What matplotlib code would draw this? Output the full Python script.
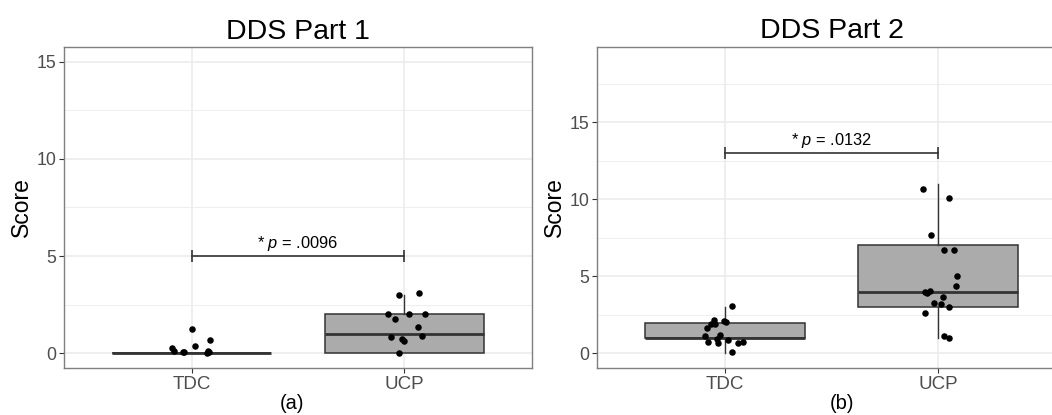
import matplotlib
matplotlib.use("Agg")
import matplotlib.pyplot as plt
import numpy as np

plt.rcParams['font.family'] = ['Liberation Sans', 'DejaVu Sans']
plt.rcParams['mathtext.fontset'] = 'custom'
plt.rcParams['mathtext.rm'] = 'Liberation Sans'
plt.rcParams['mathtext.it'] = 'Liberation Sans:italic'

# ---------------- data ----------------
categories = ["TDC", "UCP"]
titles = ["DDS Part 1", "DDS Part 2"]
panel_labels = ["(a)", "(b)"]
p_texts = [r"* $\it{p}$ = .0096", r"* $\it{p}$ = .0132"]
bracket_y = [5, 13]
yticks = [0, 5, 10, 15]

# box statistics (q1, median, q3, whisker low, whisker high)
p1_tdc_box = dict(q1=0, med=0, q3=0, whislo=0, whishi=0)
p1_ucp_box = dict(q1=0, med=1, q3=2, whislo=0, whishi=3)
p2_tdc_box = dict(q1=1, med=1, q3=2, whislo=0, whishi=3)
p2_ucp_box = dict(q1=3, med=4, q3=7, whislo=1, whishi=11)

# jittered points (x position on category axis, plotted score)
p1_tdc_x = [1.003, 1.085, 1.016, 0.906, 0.918, 0.964, 0.958, 1.077, 1.072, 1.080]
p1_tdc_y = [1.28, 0.68, 0.36, 0.27, 0.10, 0.08, 0.06, 0.10, 0.00, 0.05]
p1_ucp_x = [1.977, 2.068, 1.921, 2.020, 2.098, 1.957, 2.066, 2.084, 1.937, 1.989, 1.998, 1.975]
p1_ucp_y = [2.98, 3.08, 2.01, 2.01, 2.05, 1.77, 1.38, 0.92, 0.84, 0.73, 0.63, 0.02]
p2_tdc_x = [1.035, 0.948, 0.995, 1.006, 0.933, 0.953, 0.914, 0.905, 0.977, 0.961,
            1.013, 0.920, 0.969, 1.061, 1.084, 1.035]
p2_tdc_y = [3.07, 2.14, 2.10, 2.05, 1.92, 1.88, 1.62, 1.12, 1.16, 0.91,
            0.84, 0.75, 0.67, 0.69, 0.75, 0.06]
p2_ucp_x = [1.932, 2.052, 1.968, 2.027, 2.077, 2.091, 2.083, 1.961, 1.938, 1.950,
            2.024, 1.980, 2.013, 2.052, 1.940, 2.029, 2.050]
p2_ucp_y = [10.65, 10.08, 7.66, 6.71, 6.71, 5.02, 4.37, 4.02, 3.96, 3.94,
            3.68, 3.29, 3.20, 2.98, 2.62, 1.10, 0.97]

panels = [
    dict(boxes=[p1_tdc_box, p1_ucp_box], xs=[p1_tdc_x, p1_ucp_x], ys=[p1_tdc_y, p1_ucp_y],
         ylim=(-0.75, 15.75), minor=[2.5, 7.5, 12.5]),
    dict(boxes=[p2_tdc_box, p2_ucp_box], xs=[p2_tdc_x, p2_ucp_x], ys=[p2_tdc_y, p2_ucp_y],
         ylim=(-0.97, 19.9), minor=[2.5, 7.5, 12.5, 17.5]),
]

# ---------------- layout ----------------
W, H = 1052, 415
fig = plt.figure(figsize=(W / 100, H / 100), dpi=100)
fig.patch.set_facecolor("white")

axes_px = [(64, 47, 532, 368), (597.3, 46.7, 1065.7, 368.3)]
label_px_x = [291.7, 841.7]
ylabel_px_x = [21, 554]

border = "#333333"
grid_c = "#EBEBEB"
tick_text = "#4D4D4D"

for i, (pan, (l, t, r, b)) in enumerate(zip(panels, axes_px)):
    ax = fig.add_axes([l / W, 1 - b / H, (r - l) / W, (b - t) / H])
    ax.set_xlim(0.4, 2.6)
    ax.set_ylim(*pan["ylim"])

    # grid
    for y in yticks:
        ax.axhline(y, color=grid_c, lw=1.1, zorder=0)
    for y in pan["minor"]:
        ax.axhline(y, color=grid_c, lw=0.6, zorder=0)
    for x in [1, 2]:
        ax.axvline(x, color=grid_c, lw=1.1, zorder=0)

    stats = []
    for box in pan["boxes"]:
        s = dict(box)
        s["fliers"] = []
        stats.append(s)
    ax.bxp(stats, positions=[1, 2], widths=0.75, patch_artist=True, showcaps=False,
           showfliers=False,
           boxprops=dict(facecolor="#ABABAB", edgecolor=border, linewidth=1.1),
           medianprops=dict(color=border, linewidth=2.0, solid_capstyle="butt"),
           whiskerprops=dict(color=border, linewidth=1.0),
           zorder=2)

    for xs, ys in zip(pan["xs"], pan["ys"]):
        ax.scatter(xs, ys, s=22, color="black", linewidths=0, zorder=3)

    # significance bracket
    yb = bracket_y[i]
    ax.plot([1, 2], [yb, yb], color=border, lw=1.2, zorder=4)
    ax.plot([1, 2], [yb, yb], color=border, lw=0, marker="|", markersize=9,
            markeredgewidth=1.2, zorder=4)
    ax.annotate(p_texts[i], xy=(1.5, yb), xytext=(0, 2.5), textcoords="offset points",
                ha="center", va="bottom", fontsize=11.8, color="black")

    ax.set_xticks([1, 2])
    ax.set_xticklabels(categories)
    ax.set_yticks(yticks)
    ax.tick_params(axis="both", which="major", length=3.5, width=0.8, color=border,
                   labelcolor=tick_text, pad=2)
    ax.tick_params(axis="x", labelsize=13.5)
    ax.tick_params(axis="y", labelsize=12.8)
    for sp in ax.spines.values():
        sp.set_color("#7F7F7F")
        sp.set_linewidth(1.0)
    ax.set_title(titles[i], fontsize=20.5, color="black", pad=6)

    fig.text(ylabel_px_x[i] / W, 1 - ((t + b) / 2) / H, "Score", rotation=90,
             ha="center", va="center", fontsize=16.5, color="black")
    fig.text(label_px_x[i] / W, 1 - 403.7 / H, panel_labels[i], ha="center",
             va="center", fontsize=14.5, color="black")

fig.savefig("out.png", dpi=100, facecolor="white")
